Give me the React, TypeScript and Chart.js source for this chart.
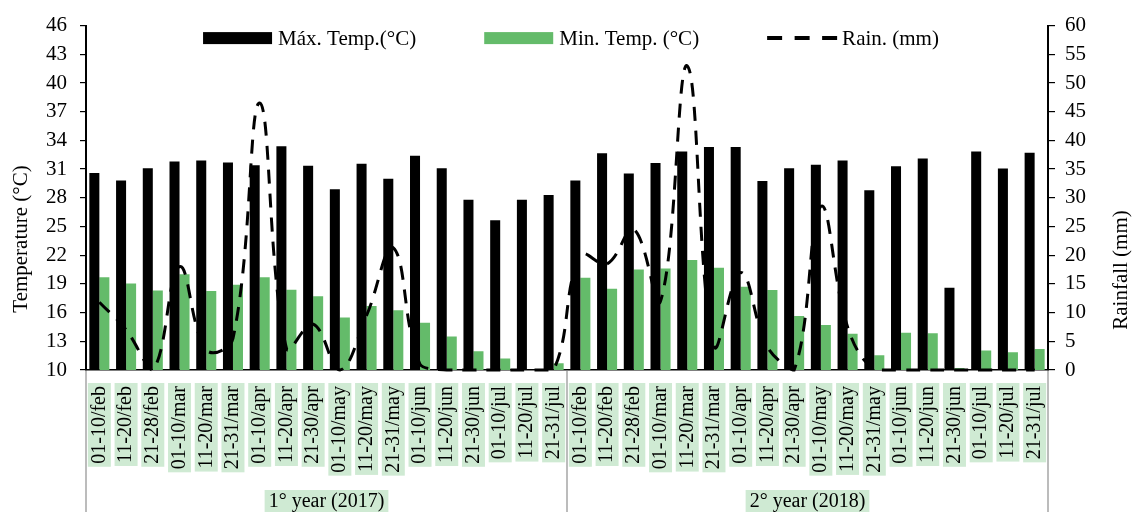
import React, { useEffect, useRef } from 'react';
import { Chart, registerables } from 'chart.js';

Chart.register(...registerables);

// ---------- DATA ----------
const periods = [
  '01-10/feb', '11-20/feb', '21-28/feb',
  '01-10/mar', '11-20/mar', '21-31/mar',
  '01-10/apr', '11-20/apr', '21-30/apr',
  '01-10/may', '11-20/may', '21-31/may',
  '01-10/jun', '11-20/jun', '21-30/jun',
  '01-10/jul', '11-20/jul', '21-31/jul',
];
const categories = [...periods, ...periods];
const groupLabels = ['1° year (2017)', '2° year (2018)'];

const maxTemp2017 = [30.6, 29.8, 31.1, 31.8, 31.9, 31.7, 31.4, 33.4, 31.35, 28.9, 31.55, 30.0, 32.4, 31.1, 27.8, 25.65, 27.8, 28.3];
const maxTemp2018 = [29.8, 32.65, 30.55, 31.65, 32.85, 33.3, 33.3, 29.75, 31.1, 31.45, 31.9, 28.8, 31.3, 32.1, 18.6, 32.85, 31.05, 32.7];

const minTemp2017 = [19.7, 19.05, 18.3, 20.0, 18.25, 18.9, 19.7, 18.4, 17.7, 15.5, 16.7, 16.25, 14.95, 13.5, 11.95, 11.2, 10.0, 10.7];
const minTemp2018 = [19.65, 18.5, 20.5, 20.6, 21.5, 20.7, 18.7, 18.35, 15.65, 14.7, 13.8, 11.55, 13.9, 13.85, 10.2, 12.05, 11.85, 12.2];

const rain2017 = [11.8, 7, 0, 18, 3.5, 5.5, 46.5, 3.8, 8, 0, 9.5, 21.3, 1, 0, 0, 0, 0, 0];
const rain2018 = [20, 18.5, 24.5, 12, 53, 4.2, 17, 4, 0, 28.5, 7.5, 0, 0, 0, 0, 0, 0, 0];

const seriesNames = ['Máx. Temp.(°C)', 'Min. Temp. (°C)', 'Rain. (mm)'];
const leftTitle = 'Temperature (°C)';
const rightTitle = 'Rainfall (mm)';

const tempTicks = { min: 10, max: 46, step: 3 };
const rainTicks = { min: 0, max: 60, step: 5 };

// ---------- STYLE ----------
const FONT = "'Liberation Serif', 'Times New Roman', serif";
const BLACK = '#000000';
const GREEN = '#64bb6a';
const BACKDROP = '#cfead3';
const SEP = '#a6a6a6';
const X_FONT_SIZE = 20;
const X_LINE_HEIGHT = 1.15;

const legendPlugin = {
  id: 'customLegend',
  afterDraw(chart: any) {
    const { ctx, chartArea } = chart;
    ctx.save();
    ctx.font = `21px ${FONT}`;
    ctx.textBaseline = 'middle';
    ctx.textAlign = 'left';
    const boxW = 69;
    const boxH = 12;
    const gapText = 6;
    const gapItem = 68;
    const kinds = ['bar', 'bar', 'line'];
    const colors = [BLACK, GREEN, BLACK];
    const widths = seriesNames.map((n) => boxW + gapText + ctx.measureText(n).width);
    const total = widths.reduce((a, b) => a + b, 0) + gapItem * (seriesNames.length - 1);
    let x = (chartArea.left + chartArea.right) / 2 + 4 - total / 2;
    const y = chartArea.top + 12.5;
    seriesNames.forEach((name, i) => {
      if (kinds[i] === 'bar') {
        ctx.fillStyle = colors[i];
        ctx.fillRect(x, y - boxH / 2, boxW, boxH);
      } else {
        ctx.strokeStyle = colors[i];
        ctx.lineWidth = 4;
        ctx.setLineDash([15, 12.5]);
        ctx.beginPath();
        ctx.moveTo(x, y);
        ctx.lineTo(x + boxW + 1, y);
        ctx.stroke();
        ctx.setLineDash([]);
      }
      ctx.fillStyle = BLACK;
      ctx.fillText(name, x + boxW + gapText, y + 1);
      x += widths[i] + gapItem;
    });
    ctx.restore();
  },
};

const decorPlugin = {
  id: 'decor',
  afterDraw(chart: any) {
    const { ctx, chartArea } = chart;
    const xs = chart.scales.x;
    ctx.save();
    // group separators below the axis
    const mid = (xs.getPixelForValue(periods.length - 1) + xs.getPixelForValue(periods.length)) / 2;
    ctx.strokeStyle = SEP;
    ctx.lineWidth = 1.5;
    [chartArea.left, mid, chartArea.right].forEach((px) => {
      ctx.beginPath();
      ctx.moveTo(px, chartArea.bottom + 1);
      ctx.lineTo(px, chart.height);
      ctx.stroke();
    });
    // axis titles (both read bottom-to-top)
    ctx.fillStyle = BLACK;
    ctx.font = `21px ${FONT}`;
    ctx.textAlign = 'center';
    ctx.textBaseline = 'middle';
    ctx.save();
    ctx.translate(21, 239);
    ctx.rotate(-Math.PI / 2);
    ctx.fillText(leftTitle, 0, 0);
    ctx.restore();
    ctx.save();
    ctx.translate(1121, 270);
    ctx.rotate(-Math.PI / 2);
    ctx.fillText(rightTitle, 0, 0);
    ctx.restore();
    ctx.restore();
  },
};

export default function App() {
  const ref = useRef<HTMLCanvasElement>(null);

  useEffect(() => {
    document.body.style.margin = '0';
    Chart.defaults.font.family = FONT;
    Chart.defaults.color = BLACK;

    const chart = new Chart(ref.current as HTMLCanvasElement, {
      type: 'bar',
      data: {
        labels: categories,
        datasets: [
          {
            type: 'line',
            label: seriesNames[2],
            data: [...rain2017, ...rain2018],
            yAxisID: 'y1',
            xAxisID: 'x',
            borderColor: BLACK,
            backgroundColor: BLACK,
            borderWidth: 3,
            borderDash: [14, 10],
            pointRadius: 0,
            tension: 0.4,
            fill: false,
            clip: false,
          } as any,
          {
            type: 'bar',
            label: seriesNames[0],
            data: [...maxTemp2017, ...maxTemp2018],
            yAxisID: 'y',
            xAxisID: 'x',
            backgroundColor: BLACK,
            categoryPercentage: 0.75,
            barPercentage: 1.0,
          },
          {
            type: 'bar',
            label: seriesNames[1],
            data: [...minTemp2017, ...minTemp2018],
            yAxisID: 'y',
            xAxisID: 'x',
            backgroundColor: GREEN,
            categoryPercentage: 0.75,
            barPercentage: 1.0,
          },
        ],
      },
      options: {
        responsive: false,
        animation: false,
        devicePixelRatio: 1,
        layout: { padding: { top: 22, left: 0, right: 0, bottom: 0 } },
        plugins: {
          legend: { display: false },
          tooltip: { enabled: false },
        },
        scales: {
          x: {
            type: 'category',
            position: 'bottom',
            offset: true,
            grid: { display: false, drawTicks: false },
            border: { display: true, color: BLACK, width: 1.5 },
            ticks: {
              autoSkip: false,
              minRotation: 90,
              maxRotation: 90,
              padding: 16,
              labelOffset: -(X_FONT_SIZE * X_LINE_HEIGHT) / 2,
              color: BLACK,
              font: { size: X_FONT_SIZE, lineHeight: X_LINE_HEIGHT },
              showLabelBackdrop: true,
              backdropColor: BACKDROP,
              backdropPadding: { left: 3, right: 3, top: 0, bottom: 0 },
            } as any,
            afterFit: (s: any) => { s.height = 106; },
          },
          xg: {
            type: 'category',
            position: 'bottom',
            labels: groupLabels,
            offset: true,
            grid: { display: false, drawTicks: false },
            border: { display: false },
            ticks: {
              autoSkip: false,
              maxRotation: 0,
              minRotation: 0,
              padding: 14,
              color: BLACK,
              font: { size: X_FONT_SIZE, lineHeight: X_LINE_HEIGHT },
              showLabelBackdrop: true,
              backdropColor: BACKDROP,
              backdropPadding: { left: 4, right: 4, top: 0, bottom: 0 },
            } as any,
            afterFit: (s: any) => { s.height = 36; },
          },
          y: {
            type: 'linear',
            position: 'left',
            min: tempTicks.min,
            max: tempTicks.max,
            grid: {
              drawOnChartArea: false,
              drawTicks: true,
              tickLength: 6,
              color: BLACK,
              lineWidth: 1.2,
            },
            border: { display: true, color: BLACK, width: 2 },
            ticks: {
              stepSize: tempTicks.step,
              padding: 13,
              color: BLACK,
              font: { size: 21 },
            },
            afterFit: (s: any) => { s.width = 86; },
          },
          y1: {
            type: 'linear',
            position: 'right',
            min: rainTicks.min,
            max: rainTicks.max,
            grid: {
              drawOnChartArea: false,
              drawTicks: true,
              tickLength: 7,
              color: BLACK,
              lineWidth: 1.2,
            },
            border: { display: true, color: BLACK, width: 2 },
            ticks: {
              stepSize: rainTicks.step,
              padding: 10,
              color: BLACK,
              font: { size: 21 },
            },
            afterFit: (s: any) => { s.width = 87; },
          },
        },
      } as any,
      plugins: [legendPlugin, decorPlugin],
    });

    return () => chart.destroy();
  }, []);

  return (
    <div style={{ width: 1135, height: 512 }}>
      <canvas ref={ref} width={1135} height={512} style={{ display: 'block' }} />
    </div>
  );
}
